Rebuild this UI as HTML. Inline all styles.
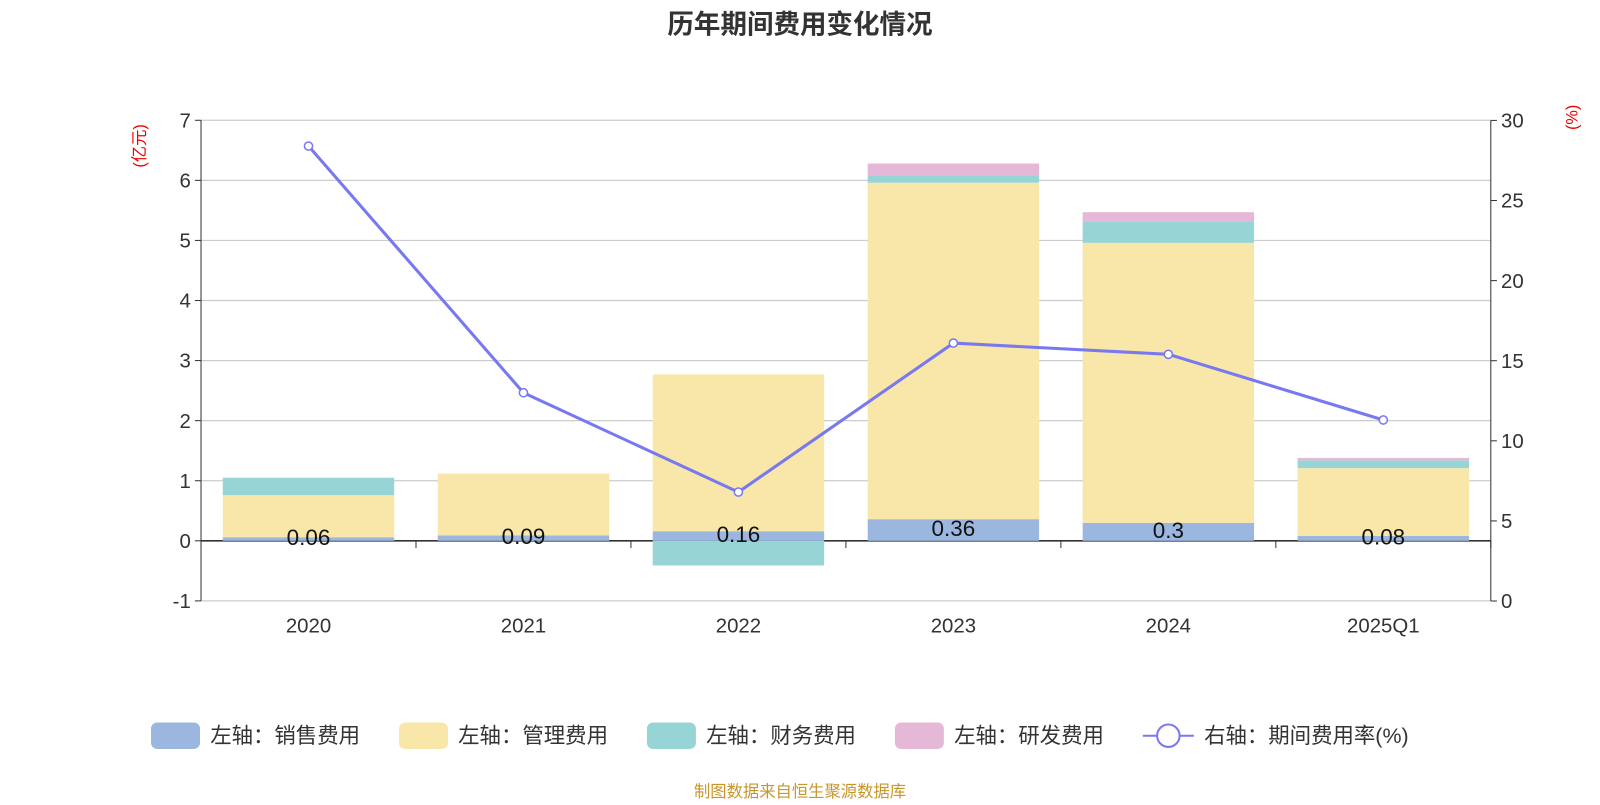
<!DOCTYPE html>
<html><head><meta charset="utf-8">
<style>
body{margin:0;background:#fff;}
svg text{font-family:"Liberation Sans","Noto Sans CJK SC",sans-serif;}
</style></head>
<body>
<svg id="chart" width="1600" height="800" xmlns="http://www.w3.org/2000/svg">
<g transform="scale(1.0204)">
<text x="784" y="33" text-anchor="middle" font-size="26" font-weight="bold" fill="#333">历年期间费用变化情况</text>
<text transform="translate(142,143) rotate(-90)" text-anchor="middle" font-size="16" fill="#e00">(亿元)</text>
<text transform="translate(1546,115) rotate(-90)" text-anchor="middle" font-size="16" fill="#e00">(%)</text>
<g id="grid"></g><g id="bars"></g><g id="axes"></g><g id="line"></g>
<g id="legend"></g>
<text x="784" y="781" text-anchor="middle" font-size="16" fill="#c8962a">制图数据来自恒生聚源数据库</text>
</g>
</svg>
<script>
const categories=["2020","2021","2022","2023","2024","2025Q1"];
const sales=[0.06,0.09,0.16,0.36,0.3,0.08];
const admin=[0.70,1.03,2.61,5.60,4.66,1.13];
const finance=[0.29,0.0,-0.41,0.12,0.36,0.13];
const rnd=[0,0,0,0.20,0.15,0.04];
const rate=[28.4,13.0,6.8,16.1,15.4,11.3];
const salesLabels=["0.06","0.09","0.16","0.36","0.3","0.08"];
const leftTicks=[-1,0,1,2,3,4,5,6,7];
const rightTicks=[0,5,10,15,20,25,30];

const NS="http://www.w3.org/2000/svg";
const X0=197,X1=1461,band=(X1-X0)/categories.length,bw=168;
const yL=v=>530-v*58.875;
const yR=v=>589-v*(471/30);
const xC=i=>X0+band*(i+0.5);
function el(t,a,p){const e=document.createElementNS(NS,t);for(const k in a)e.setAttribute(k,a[k]);document.getElementById(p).appendChild(e);return e;}
leftTicks.forEach(t=>{
 const g=el('line',{x1:X0,x2:X1,y1:yL(t),y2:yL(t),stroke:t===0?'#333':'#ccc','stroke-width':t===0?1.5:1.2},'grid');
 
 
 const tx=el('text',{x:X0-10,y:yL(t)+7,'text-anchor':'end','font-size':20,fill:'#333'},'axes');tx.textContent=t;
 
 
 el('line',{x1:X0-6,x2:X0,y1:yL(t),y2:yL(t),stroke:'#333'},'axes');
});
rightTicks.forEach(t=>{
 const tx=el('text',{x:X1+10,y:yR(t)+7,'font-size':20,fill:'#333'},'axes');tx.textContent=t;
 
 
 el('line',{x1:X1,x2:X1+6,y1:yR(t),y2:yR(t),stroke:'#333'},'axes');
});
el('line',{x1:X0,x2:X0,y1:yL(7),y2:yL(-1),stroke:'#333'},'axes');
el('line',{x1:X1,x2:X1,y1:yR(30),y2:yR(0),stroke:'#333'},'axes');
for(let i=0;i<=categories.length;i++)el('line',{x1:X0+band*i,x2:X0+band*i,y1:530,y2:537,stroke:'#333'},'axes');
categories.forEach((c,i)=>{
 const tx=el('text',{x:xC(i),y:620,'text-anchor':'middle','font-size':20,fill:'#333'},'axes');tx.textContent=c;
 
 
});
const series=[[sales,'#9bb7e0','sales-bar'],[admin,'#f8e7a8','admin-bar'],[finance,'#97d4d5','finance-bar'],[rnd,'#e6b8d8','rnd-bar']];
categories.forEach((c,i)=>{
 let pos=0,neg=0;
 series.forEach(([arr,col,nm])=>{
  const v=arr[i];if(!v)return;
  let a,b;
  if(v>=0){a=pos;b=pos+v;pos=b;}else{a=neg;b=neg+v;neg=b;}
  const r=el('rect',{x:xC(i)-bw/2,y:Math.min(yL(a),yL(b)),width:bw,height:Math.abs(yL(a)-yL(b)),fill:col},'bars');
  
  
 });
 const tx=el('text',{x:xC(i),y:yL(sales[i]/2)+6,'text-anchor':'middle','font-size':22,fill:'#111'},'bars');tx.textContent=salesLabels[i];
 
 
});
const pl=el('polyline',{points:rate.map((v,i)=>xC(i)+','+yR(v)).join(' '),fill:'none',stroke:'#7878f0','stroke-width':3},'line');


rate.forEach((v,i)=>{
 const c=el('circle',{cx:xC(i),cy:yR(v),r:4,fill:'#fff',stroke:'#7878f0','stroke-width':1.5},'line');
 
 
});
const leg=[['左轴：销售费用','#9bb7e0',148],['左轴：管理费用','#f8e7a8',391],['左轴：财务费用','#97d4d5',634],['左轴：研发费用','#e6b8d8',877]];
leg.forEach(([t,c,x])=>{
 const r=el('rect',{x:x,y:708,width:48,height:26,rx:6,fill:c},'legend');
 
 
 const tx=el('text',{x:x+58,y:728,'font-size':21,fill:'#333'},'legend');tx.textContent=t;
 
 
});
el('line',{x1:1120,x2:1170,y1:721,y2:721,stroke:'#7878f0','stroke-width':2},'legend');
el('circle',{cx:1145,cy:721,r:11,fill:'#fff',stroke:'#7878f0','stroke-width':2},'legend');
const lt=el('text',{x:1180,y:728,'font-size':21,fill:'#333'},'legend');lt.textContent='右轴：期间费用率(%)';


</script>
</body></html>
